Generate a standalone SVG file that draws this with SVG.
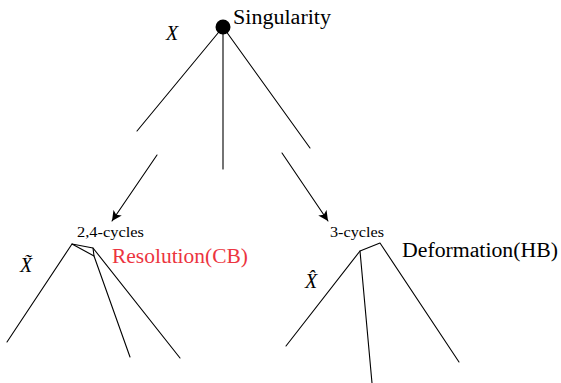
<svg xmlns="http://www.w3.org/2000/svg" width="561" height="383" viewBox="0 0 561 383">
<defs>
<style>
.ln{stroke:#000;stroke-width:1.1;fill:none;stroke-linecap:round;stroke-linejoin:round}
.t{font-family:"Liberation Serif","DejaVu Serif",serif;fill:#000}
.it{font-family:"Liberation Serif","DejaVu Serif",serif;font-style:italic;fill:#000}
.red{fill:#ec3440}
</style>
<marker id="ah" viewBox="0 0 10 10" refX="10" refY="5" markerWidth="10" markerHeight="10" markerUnits="userSpaceOnUse" orient="auto">
<path d="M0,0 L10,5 L0,10 L2.5,5 Z" fill="#000"/>
</marker>
</defs>
<rect width="561" height="383" fill="#fff"/>
<g id="connectors">
<line class="ln" x1="157" y1="155" x2="112" y2="221" marker-end="url(#ah)"/>
<line class="ln" x1="282" y1="153" x2="328" y2="221" marker-end="url(#ah)"/>
</g>
<g id="singularity">
<line class="ln" x1="223" y1="27" x2="137" y2="131"/>
<line class="ln" x1="223" y1="27" x2="223" y2="169"/>
<line class="ln" x1="223" y1="27" x2="310" y2="148"/>
<circle cx="223" cy="27" r="7.5" fill="#000"/>
<text class="t" x="233" y="24" font-size="20" textLength="98" lengthAdjust="spacingAndGlyphs">Singularity</text>
<text class="it" x="166" y="40" font-size="20">X</text>
</g>
<g id="resolution">
<polyline class="ln" points="7,342 72,244 93,248 180,358"/>
<polyline class="ln" points="72,244 94,256 130,357"/>
<line class="ln" x1="93" y1="248" x2="94" y2="256"/>
<text class="t" x="77" y="237" font-size="15" textLength="67" lengthAdjust="spacingAndGlyphs">2,4-cycles</text>
<text class="t red" x="112" y="263" font-size="20" textLength="136" lengthAdjust="spacingAndGlyphs">Resolution(CB)</text>
<text class="it" x="20" y="272" font-size="20">X&#x303;</text>
</g>
<g id="deformation">
<polyline class="ln" points="286,346 360,251 380,243 459,362"/>
<line class="ln" x1="360" y1="251" x2="372" y2="383"/>
<text class="t" x="330" y="237" font-size="15" textLength="54" lengthAdjust="spacingAndGlyphs">3-cycles</text>
<text class="t" x="402" y="257" font-size="20" textLength="156" lengthAdjust="spacingAndGlyphs">Deformation(HB)</text>
<text class="it" x="305" y="288" font-size="20">X&#x302;</text>
</g>
</svg>
